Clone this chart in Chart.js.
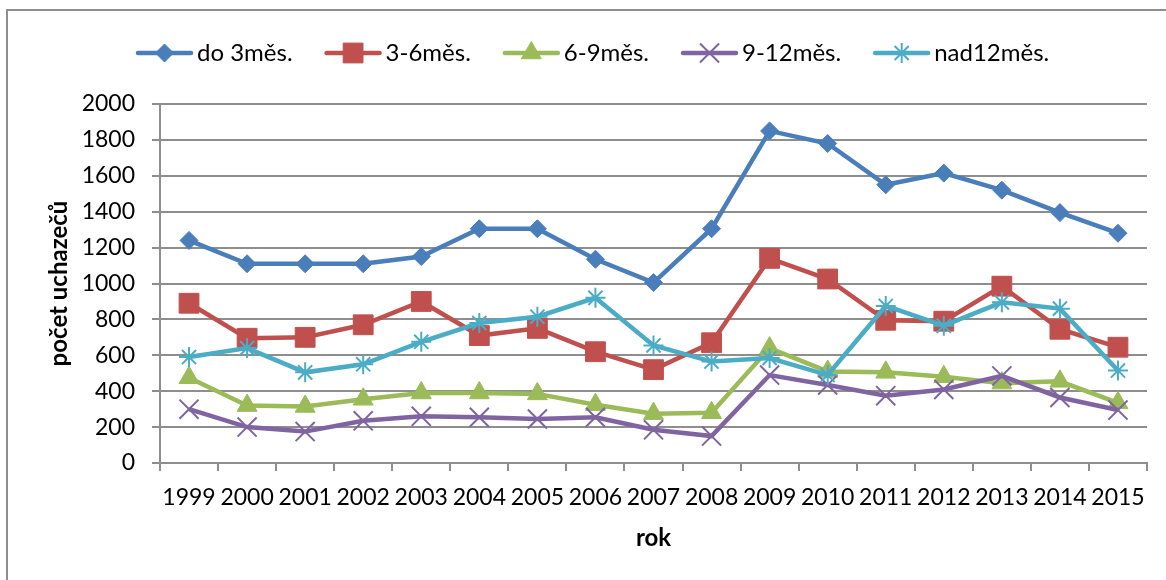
<!DOCTYPE html>
<html>
<head>
<meta charset="utf-8">
<title>Uchazeči podle délky evidence</title>
<script src="https://cdn.jsdelivr.net/npm/chart.js@4.4.1/dist/chart.umd.min.js"></script>
<style>
  html, body { margin: 0; padding: 0; background: #fff; }
  #wrap { width: 1166px; height: 580px; position: relative; }
</style>
</head>
<body>
<div id="wrap"><canvas id="chart" width="1166" height="580"></canvas></div>
<script>
// počet uchazečů podle délky evidence, 1999–2015
const years = ['1999', '2000', '2001', '2002', '2003', '2004', '2005', '2006', '2007',
    '2008', '2009', '2010', '2011', '2012', '2013', '2014', '2015'];

const do3 =   [1240, 1110, 1110, 1110, 1150, 1305, 1305, 1135, 1005, 1305, 1850, 1780, 1550, 1615, 1520, 1395, 1280];
const m3to6 = [890, 695, 700, 770, 900, 710, 750, 620, 520, 670, 1140, 1025, 795, 790, 985, 745, 645];
const m6to9 = [475, 320, 315, 355, 390, 390, 385, 325, 275, 280, 640, 510, 505, 480, 445, 455, 335];
const m9to12 = [300, 200, 175, 235, 260, 255, 245, 255, 185, 150, 490, 435, 375, 410, 485, 365, 295];
const nad12 = [590, 640, 505, 550, 675, 780, 815, 920, 655, 565, 585, 490, 875, 765, 895, 860, 515];

const seriesLabels = ['do 3měs.', '3-6měs.', '6-9měs.', '9-12měs.', 'nad12měs.'];
const yTicks = { min: 0, max: 2000, step: 200 };

const FONT = 'Lato';
const GRID = '#8e8e8e';

function series(label, data, color, style, radius, markerWidth, order) {
    return {
        label: label,
        data: data,
        borderColor: color,
        backgroundColor: color,
        borderWidth: 4.5,
        tension: 0,
        pointStyle: style,
        pointRadius: radius,
        pointHoverRadius: radius,
        pointBackgroundColor: color,
        pointBorderColor: color,
        pointBorderWidth: markerWidth,
        order: order
    };
}

// Excel-like legend: short line with the series marker, then the label
const lineLegend = {
    id: 'lineLegend',
    afterDraw(chart) {
        const ctx = chart.ctx;
        const y = 53;
        let x = 138;
        ctx.save();
        ctx.font = `24px ${FONT}`;
        ctx.textBaseline = 'middle';
        ctx.textAlign = 'left';
        chart.data.datasets.forEach(ds => {
            ctx.strokeStyle = ds.borderColor;
            ctx.lineWidth = ds.borderWidth;
            ctx.lineCap = 'round';
            ctx.beginPath();
            ctx.moveTo(x, y);
            ctx.lineTo(x + 53, y);
            ctx.stroke();

            ctx.fillStyle = ds.pointBackgroundColor;
            ctx.strokeStyle = ds.pointBorderColor;
            ctx.lineWidth = ds.pointBorderWidth;
            ctx.lineCap = 'butt';
            Chart.helpers.drawPoint(ctx, {
                pointStyle: ds.pointStyle,
                radius: ds.pointRadius,
                rotation: 0,
                borderWidth: ds.pointBorderWidth
            }, x + 26.5, y);

            ctx.fillStyle = '#000';
            ctx.fillText(ds.label, x + 59, y);
            x += 59 + ctx.measureText(ds.label).width + 34;
        });
        ctx.restore();
    }
};

// white background and the outer frame
const frame = {
    id: 'frame',
    beforeDraw(chart) {
        const ctx = chart.ctx;
        ctx.save();
        ctx.fillStyle = '#fff';
        ctx.fillRect(0, 0, chart.width, chart.height);
        ctx.strokeStyle = GRID;
        ctx.lineWidth = 2;
        ctx.strokeRect(7, 10, chart.width + 20, chart.height + 20);
        ctx.restore();
    }
};

function draw() {
    Chart.defaults.font.family = FONT;
    Chart.defaults.color = '#000';

    new Chart(document.getElementById('chart'), {
        type: 'line',
        data: {
            labels: years,
            datasets: [
                series(seriesLabels[0], do3, '#4a7ebb', 'rectRot', 9, 1, 4),
                series(seriesLabels[1], m3to6, '#c0504d', 'rect', 14, 1, 3),
                series(seriesLabels[2], m6to9, '#9bbb59', 'triangle', 11.5, 1, 2),
                series(seriesLabels[3], m9to12, '#8064a2', 'crossRot', 13.5, 2, 1),
                series(seriesLabels[4], nad12, '#4bacc6', 'star', 10, 2, 0)
            ]
        },
        options: {
            responsive: false,
            animation: false,
            layout: { padding: { top: 104, right: 19, bottom: 0, left: 0 } },
            plugins: {
                legend: { display: false },
                tooltip: { enabled: false }
            },
            scales: {
                x: {
                    offset: true,
                    afterFit: (s) => { s.height = 117; },
                    grid: {
                        offset: true,
                        drawOnChartArea: false,
                        drawTicks: true,
                        tickLength: 8,
                        color: GRID,
                        lineWidth: 2
                    },
                    border: { color: GRID, width: 2 },
                    ticks: {
                        autoSkip: false,
                        maxRotation: 0,
                        padding: 13,
                        font: { size: 23 },
                        color: '#000'
                    },
                    title: {
                        display: true,
                        text: 'rok',
                        font: { size: 24, weight: 'bold' },
                        color: '#000',
                        padding: { top: 0, bottom: 27 }
                    }
                },
                y: {
                    min: yTicks.min,
                    max: yTicks.max,
                    afterFit: (s) => { s.width = 160; },
                    grid: {
                        color: GRID,
                        lineWidth: 2,
                        tickLength: 8
                    },
                    border: { color: GRID, width: 2 },
                    ticks: {
                        stepSize: yTicks.step,
                        padding: 17,
                        font: { size: 23 },
                        color: '#000',
                        callback: (v) => String(v)
                    },
                    title: {
                        display: true,
                        text: 'počet uchazečů',
                        font: { size: 24, weight: 'bold' },
                        color: '#000',
                        padding: { top: 45, bottom: 0 }
                    }
                }
            }
        },
        plugins: [frame, lineLegend]
    });
}

Promise.all([
    document.fonts.load(`23px ${FONT}`),
    document.fonts.load(`bold 24px ${FONT}`)
]).then(draw, draw);
</script>
</body>
</html>
